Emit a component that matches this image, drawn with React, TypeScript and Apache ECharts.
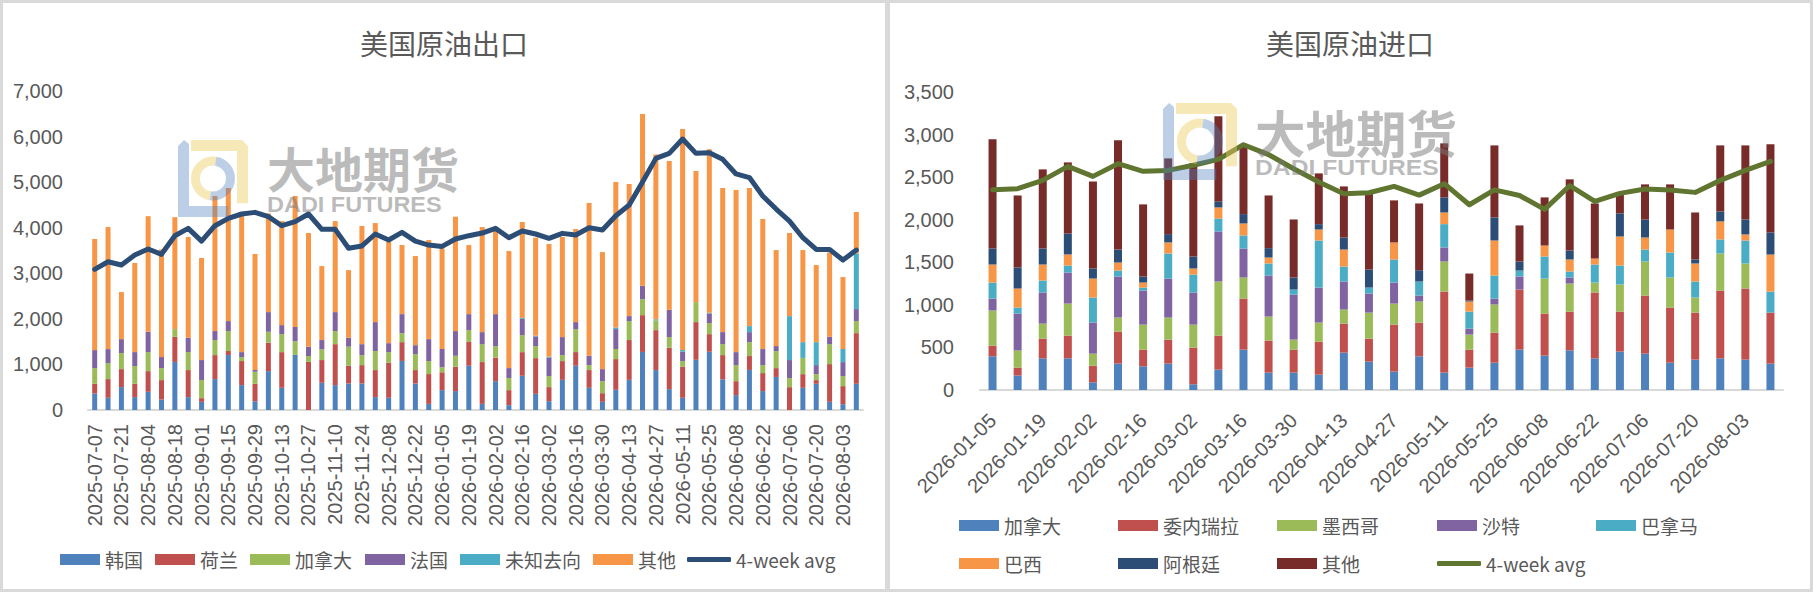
import React, { useEffect, useRef } from "react";
import * as echarts from "echarts";

// ---------------- Export chart data ----------------
const exportDates = [
  "2025-07-07", "2025-07-14", "2025-07-21", "2025-07-28", "2025-08-04", "2025-08-11", "2025-08-18", "2025-08-25",
  "2025-09-01", "2025-09-08", "2025-09-15", "2025-09-22", "2025-09-29", "2025-10-06", "2025-10-13", "2025-10-20",
  "2025-10-27", "2025-11-03", "2025-11-10", "2025-11-17", "2025-11-24", "2025-12-01", "2025-12-08", "2025-12-15",
  "2025-12-22", "2025-12-29", "2026-01-05", "2026-01-12", "2026-01-19", "2026-01-26", "2026-02-02", "2026-02-09",
  "2026-02-16", "2026-02-23", "2026-03-02", "2026-03-09", "2026-03-16", "2026-03-23", "2026-03-30", "2026-04-06",
  "2026-04-13", "2026-04-20", "2026-04-27", "2026-05-04", "2026-05-11", "2026-05-18", "2026-05-25", "2026-06-01",
  "2026-06-08", "2026-06-15", "2026-06-22", "2026-06-29", "2026-07-06", "2026-07-13", "2026-07-20", "2026-07-27",
  "2026-08-03", "2026-08-10",
];
const exportKorea = [
  364, 268, 502, 282, 399, 230, 1055, 282, 179, 678, 1205, 546, 194, 853, 487, 1210, 0, 597, 546, 583, 583, 282, 268, 1077,
  583, 135, 436, 415, 971, 135, 633, 106, 751, 355, 194, 662, 971, 487, 179, 443, 662, 1274, 876, 458, 268, 1102, 1278, 673,
  326, 879, 415, 725, 0, 487, 575, 179, 128, 575,
];
const exportNetherlands = [
  212, 410, 395, 294, 454, 426, 552, 594, 81, 527, 89, 528, 382, 622, 783, 0, 1055, 499, 899, 388, 402, 594, 769, 412,
  293, 653, 392, 534, 523, 917, 514, 330, 519, 784, 308, 411, 300, 389, 190, 674, 873, 808, 877, 908, 682, 827, 387, 532,
  307, 305, 395, 194, 502, 300, 81, 828, 396, 1112,
];
const exportCanada = [
  343, 351, 352, 388, 417, 263, 168, 395, 396, 330, 438, 88, 263, 242, 395, 297, 129, 234, 287, 418, 220, 418, 233, 198,
  351, 286, 110, 241, 259, 393, 256, 265, 373, 264, 241, 132, 504, 109, 264, 221, 416, 351, 212, 234, 124, 438, 242, 240,
  352, 305, 175, 374, 199, 356, 131, 438, 219, 264,
];
const exportFrance = [
  396, 308, 306, 307, 447, 243, 0, 314, 440, 197, 219, 108, 37, 431, 198, 315, 205, 205, 416, 196, 240, 635, 197, 417,
  196, 481, 400, 542, 351, 264, 701, 219, 358, 212, 407, 395, 154, 205, 264, 437, 109, 293, 0, 600, 205, 0, 212, 264,
  285, 220, 352, 110, 395, 0, 198, 161, 308, 263,
];
const exportUnknown = [
  0, 0, 0, 0, 0, 0, 0, 0, 0, 0, 0, 0, 0, 0, 0, 0, 0, 0, 0, 0, 0, 0, 0, 0,
  0, 0, 0, 0, 0, 0, 0, 0, 20, 15, 20, 0, 0, 0, 0, 36, 0, 0, 25, 0, 37, 0, 16, 0,
  0, 132, 0, 0, 964, 346, 504, 0, 287, 1222,
];
const exportOther = [
  2437, 2678, 1033, 1954, 2536, 2362, 2456, 2212, 2240, 2963, 2920, 3005, 2545, 2166, 2283, 2873, 2495, 1623, 1998, 1485,
  2592, 2173, 2228, 1516, 1955, 2175, 2208, 2510, 1516, 2306, 1823, 2568, 2104, 2151, 2472, 2197, 2042, 3354, 2568, 3192,
  2900, 3770, 3619, 3263, 4851, 2876, 3585, 3162, 3557, 3030, 2853, 2106, 1824, 2020, 1691, 1852, 1579, 908,
];
const exportAvg = [
  3086, 3254, 3181, 3401, 3533, 3416, 3825, 3986, 3707, 4044, 4206, 4301, 4337, 4242, 4044, 4134, 4301, 3964, 3964, 3548,
  3600, 3862, 3730, 3898, 3707, 3620, 3590, 3752, 3825, 3883, 3986, 3781, 3927, 3862, 3767, 3876, 3840, 4000, 3950, 4264,
  4498, 5002, 5522, 5632, 5946, 5632, 5646, 5500, 5180, 5100, 4696, 4410, 4146, 3781, 3524, 3524, 3290, 3509,
];

// ---------------- Import chart data ----------------
const importDates = [
  "2026-01-05", "2026-01-12", "2026-01-19", "2026-01-26", "2026-02-02", "2026-02-09", "2026-02-16", "2026-02-23",
  "2026-03-02", "2026-03-09", "2026-03-16", "2026-03-23", "2026-03-30", "2026-04-06", "2026-04-13", "2026-04-20",
  "2026-04-27", "2026-05-04", "2026-05-11", "2026-05-18", "2026-05-25", "2026-06-01", "2026-06-08", "2026-06-15",
  "2026-06-22", "2026-06-29", "2026-07-06", "2026-07-13", "2026-07-20", "2026-07-27", "2026-08-03", "2026-08-10",
];
const importCanada = [
  396, 169, 372, 372, 90, 310, 278, 310, 67, 239, 474, 204, 204, 180, 439, 333,
  216, 396, 204, 263, 321, 474, 404, 466, 372, 451, 427, 321, 357, 372, 357, 310,
];
const importVenezuela = [
  125, 94, 232, 267, 196, 376, 196, 282, 431, 400, 600, 376, 270, 388, 341, 271,
  552, 396, 952, 211, 353, 706, 494, 455, 773, 470, 682, 647, 552, 796, 835, 599,
];
const importMexico = [
  412, 200, 176, 376, 141, 165, 294, 259, 270, 635, 247, 282, 118, 224, 165, 305,
  247, 247, 353, 177, 330, 0, 411, 329, 117, 318, 400, 353, 177, 435, 294, 0,
];
const importSaudi = [
  141, 435, 365, 365, 365, 482, 400, 458, 377, 588, 341, 483, 529, 411, 329, 224,
  247, 70, 165, 70, 70, 153, 0, 71, 0, 0, 0, 0, 0, 0, 0, 0,
];
const importPanama = [
  188, 70, 141, 82, 294, 70, 35, 294, 211, 153, 153, 141, 59, 553, 176, 70,
  271, 165, 274, 200, 271, 70, 259, 71, 212, 223, 141, 294, 188, 165, 270, 247,
];
const importBrazil = [
  212, 224, 188, 130, 223, 94, 59, 130, 71, 129, 141, 70, 0, 129, 200, 0,
  200, 0, 137, 118, 411, 0, 129, 141, 70, 341, 141, 270, 212, 212, 71, 435,
];
const importArgentina = [
  188, 247, 188, 246, 118, 153, 71, 98, 141, 71, 110, 110, 141, 63, 141, 212,
  0, 133, 177, 12, 271, 106, 0, 106, 0, 271, 212, 0, 47, 117, 176, 259,
];
const importOther = [
  1282, 846, 929, 835, 1023, 1282, 847, 889, 1094, 999, 794, 619, 682, 596, 600, 910,
  494, 784, 635, 317, 846, 424, 565, 835, 647, 251, 412, 530, 552, 776, 870, 1035,
];
const importAvg = [
  2352, 2364, 2462, 2626, 2509, 2658, 2568, 2579, 2640, 2709, 2881, 2764, 2599, 2442, 2305, 2317,
  2391, 2289, 2423, 2176, 2350, 2285, 2121, 2399, 2215, 2309, 2360, 2348, 2321, 2462, 2579, 2685,
];

// ---------------- Styling ----------------
const FONT = "'Liberation Sans', 'Noto Sans CJK SC', Arial, sans-serif";
const CJK = "'Noto Sans CJK SC', 'Liberation Sans', sans-serif";
const TXT = "#595959";
const C_BLUE = "#4F81BD";
const C_RED = "#C0504D";
const C_GREEN = "#9BBB59";
const C_PURPLE = "#8064A2";
const C_CYAN = "#4BACC6";
const C_ORANGE = "#F79646";
const C_NAVY = "#2C4D75";
const C_MAROON = "#772C2A";
const C_OLIVE = "#5F7530";

const fmt = (v: number) => v.toLocaleString("en-US");

function legendItem(name: string, x: number, y: number, line = false, color = "") {
  const l: any = {
    data: [name],
    left: x,
    top: y,
    padding: 0,
    itemGap: 0,
    itemWidth: line ? 44 : 40,
    itemHeight: line ? 5 : 11,
    icon: line ? "roundRect" : "rect",
    selectedMode: false,
    textStyle: { fontSize: 19, color: TXT, fontFamily: CJK },
  };
  return l;
}

function watermark(x0: number, y0: number, w: number, h: number, tx: number, ty: number, textW: number) {
  const blue = "rgba(79,129,189,0.38)";
  const yellow = "rgba(236,204,96,0.45)";
  const gray = "rgba(120,120,120,0.5)";
  const t = 11;
  return [
    { type: "polygon", z: 100, silent: true, shape: { points: [[x0, y0 + 6], [x0 + 6, y0], [x0 + t, y0 + 4], [x0 + t, y0 + h - t], [x0 + w * 0.72, y0 + h - t], [x0 + w * 0.72, y0 + h], [x0, y0 + h]] }, style: { fill: blue } },
    { type: "polygon", z: 100, silent: true, shape: { points: [[x0 + t + 2, y0], [x0 + w - 6, y0], [x0 + w, y0 + 6], [x0 + w, y0 + h * 0.82], [x0 + w - t, y0 + h * 0.82], [x0 + w - t, y0 + t], [x0 + t + 2, y0 + t]] }, style: { fill: yellow } },
    { type: "arc", z: 100, silent: true, shape: { cx: x0 + w * 0.5, cy: y0 + h * 0.5, r: w * 0.25, startAngle: Math.PI * 0.55, endAngle: Math.PI * 1.55 }, style: { stroke: yellow, lineWidth: 9, fill: "none" } },
    { type: "arc", z: 100, silent: true, shape: { cx: x0 + w * 0.5, cy: y0 + h * 0.5, r: w * 0.25, startAngle: Math.PI * 1.55, endAngle: Math.PI * 2.55 }, style: { stroke: blue, lineWidth: 9, fill: "none" } },
    { type: "text", z: 100, silent: true, x: tx, y: ty, style: { text: "大地期货", fontSize: textW / 4, fontWeight: "bold", fontFamily: CJK, fill: gray, textVerticalAlign: "top" } },
    { type: "text", z: 100, silent: true, x: tx, y: ty + 50, scaleX: textW / 180, style: { text: "DADI FUTURES", fontSize: 22, fontWeight: "bold", fontFamily: "'Liberation Sans', Arial, sans-serif", fill: gray, textVerticalAlign: "top" } },
  ];
}

function border(w: number, h: number) {
  return { type: "rect", z: 0, silent: true, shape: { x: 1.5, y: 1.5, width: w - 3, height: h - 3 }, style: { fill: "none", stroke: "#d9d9d9", lineWidth: 3 } };
}

function barSeries(name: string, data: number[], color: string, width: number) {
  return { name, type: "bar", stack: "total", data, barWidth: width, itemStyle: { color }, emphasis: { disabled: true } };
}

function lineSeries(name: string, data: number[], color: string) {
  return {
    name, type: "line", data, symbol: "none", smooth: false, z: 5,
    itemStyle: { color },
    lineStyle: { color, width: 5, cap: "round", join: "round" },
    emphasis: { disabled: true },
  };
}

const LEFT_W = 888;
const RIGHT_W = 926;
const H = 592;

function exportOption(): any {
  return {
    animation: false,
    title: { text: "美国原油出口", left: "center", top: 24, textStyle: { fontSize: 28, fontWeight: "normal", color: TXT, fontFamily: CJK } },
    grid: { left: 88, right: 25, top: 91, bottom: 182, containLabel: false },
    xAxis: {
      type: "category", data: exportDates,
      axisLine: { lineStyle: { color: "#d9d9d9", width: 2 } },
      axisTick: { show: false },
      axisLabel: { interval: 1, rotate: 90, margin: 14, fontSize: 20, color: TXT, fontFamily: FONT },
    },
    yAxis: {
      type: "value", min: 0, max: 7000, interval: 1000,
      splitLine: { show: false }, axisLine: { show: false }, axisTick: { show: false },
      axisLabel: { formatter: fmt, fontSize: 20, margin: 25, color: TXT, fontFamily: FONT },
    },
    legend: [
      legendItem("韩国", 60, 550),
      legendItem("荷兰", 155, 550),
      legendItem("加拿大", 250, 550),
      legendItem("法国", 365, 550),
      legendItem("未知去向", 460, 550),
      legendItem("其他", 593, 550),
      legendItem("4-week avg", 687, 550, true),
    ],
    graphic: [border(LEFT_W, H), ...watermark(178, 140, 70, 77, 267, 143, 192)],
    series: [
      barSeries("韩国", exportKorea, C_BLUE, 5),
      barSeries("荷兰", exportNetherlands, C_RED, 5),
      barSeries("加拿大", exportCanada, C_GREEN, 5),
      barSeries("法国", exportFrance, C_PURPLE, 5),
      barSeries("未知去向", exportUnknown, C_CYAN, 5),
      barSeries("其他", exportOther, C_ORANGE, 5),
      lineSeries("4-week avg", exportAvg, C_NAVY),
    ],
  };
}

function importOption(): any {
  return {
    animation: false,
    title: { text: "美国原油进口", left: "center", top: 24, textStyle: { fontSize: 28, fontWeight: "normal", color: TXT, fontFamily: CJK } },
    grid: { left: 93, right: 30, top: 92, bottom: 202, containLabel: false },
    xAxis: {
      type: "category", data: importDates,
      axisLine: { lineStyle: { color: "#d9d9d9", width: 2 } },
      axisTick: { show: false },
      axisLabel: { interval: 1, rotate: 45, margin: 27, fontSize: 20, color: TXT, fontFamily: FONT },
    },
    yAxis: {
      type: "value", min: 0, max: 3500, interval: 500,
      splitLine: { show: false }, axisLine: { show: false }, axisTick: { show: false },
      axisLabel: { formatter: fmt, fontSize: 20, margin: 26, color: TXT, fontFamily: FONT },
    },
    legend: [
      legendItem("加拿大", 72, 516),
      legendItem("委内瑞拉", 231, 516),
      legendItem("墨西哥", 390, 516),
      legendItem("沙特", 550, 516),
      legendItem("巴拿马", 709, 516),
      legendItem("巴西", 72, 554),
      legendItem("阿根廷", 231, 554),
      legendItem("其他", 390, 554),
      legendItem("4-week avg", 550, 554, true),
    ],
    graphic: [border(RIGHT_W, H), ...watermark(276, 103, 74, 77, 368, 106, 202)],
    series: [
      barSeries("加拿大", importCanada, C_BLUE, 8),
      barSeries("委内瑞拉", importVenezuela, C_RED, 8),
      barSeries("墨西哥", importMexico, C_GREEN, 8),
      barSeries("沙特", importSaudi, C_PURPLE, 8),
      barSeries("巴拿马", importPanama, C_CYAN, 8),
      barSeries("巴西", importBrazil, C_ORANGE, 8),
      barSeries("阿根廷", importArgentina, C_NAVY, 8),
      barSeries("其他", importOther, C_MAROON, 8),
      lineSeries("4-week avg", importAvg, C_OLIVE),
    ],
  };
}

function Panel({ left, width, build }: { left: number; width: number; build: () => any }) {
  const ref = useRef<HTMLDivElement>(null);
  useEffect(() => {
    if (!ref.current) return;
    const chart = echarts.init(ref.current, undefined, { renderer: "svg" });
    chart.setOption(build());
    return () => chart.dispose();
  }, []);
  return <div ref={ref} style={{ position: "absolute", left, top: 0, width, height: H, background: "#fff" }} />;
}

export default function App() {
  return (
    <div style={{ position: "absolute", left: 0, top: 0, width: 1813, height: H, background: "#fff", overflow: "hidden" }}>
      <Panel left={0} width={LEFT_W} build={exportOption} />
      <Panel left={887} width={RIGHT_W} build={importOption} />
    </div>
  );
}
